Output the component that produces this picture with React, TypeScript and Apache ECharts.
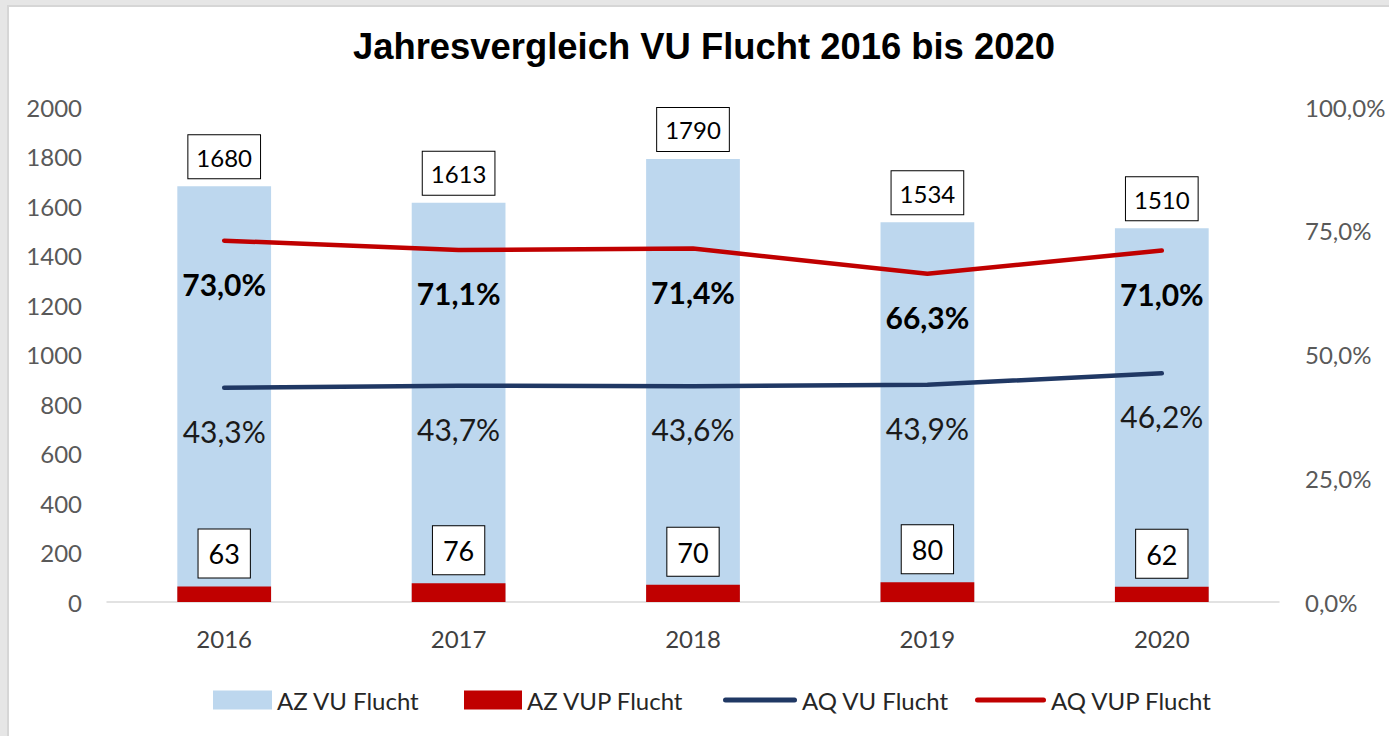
import React, { useEffect, useRef } from "react";
import * as echarts from "echarts";

const years = ["2016", "2017", "2018", "2019", "2020"];
const azVu = [1680, 1613, 1790, 1534, 1510];
const azVup = [63, 76, 70, 80, 62];
const aqVu = [43.3, 43.7, 43.6, 43.9, 46.2];
const aqVup = [73.0, 71.1, 71.4, 66.3, 71.0];
const seriesNames = ["AZ VU Flucht", "AZ VUP Flucht", "AQ VU Flucht", "AQ VUP Flucht"];
const titleText = "Jahresvergleich VU Flucht 2016 bis 2020";

const FONT = "Lato";
const pct = (v: number) => v.toFixed(1).replace(".", ",") + "%";

const lineIcon = (w: number) =>
  `path://M0,0M0,19M${w},0M${w},19M2.5,7H${w - 2.5}A2.5,2.5,0,0,1,${w - 2.5},12H2.5A2.5,2.5,0,0,1,2.5,7Z`;

const legendTextStyle = { fontFamily: FONT, fontSize: 24, color: "#262626" };

export default function App() {
  const ref = useRef<HTMLDivElement>(null);
  useEffect(() => {
    document.body.style.margin = "0";
    const chart = echarts.init(ref.current!, null, { renderer: "svg" });
    const mkLegend = (name: string, left: number, w: number, icon?: string) => ({
      left,
      top: 688,
      padding: 0,
      itemWidth: w,
      itemHeight: 19,
      data: [icon ? { name, icon } : { name, icon: "rect" }],
      textStyle: legendTextStyle,
    });
    chart.setOption({
      animation: false,
      backgroundColor: "#ffffff",
      graphic: [
        { type: "rect", z: -10, shape: { x: 0, y: 0, width: 1389, height: 6 }, style: { fill: "#e6e6e6" } },
        { type: "rect", z: -10, shape: { x: 0, y: 0, width: 7, height: 736 }, style: { fill: "#e6e6e6" } },
        { type: "rect", z: -10, shape: { x: 7, y: 5, width: 1382, height: 2 }, style: { fill: "#d6d6d6" } },
        { type: "rect", z: -10, shape: { x: 7, y: 5, width: 2, height: 731 }, style: { fill: "#d6d6d6" } },
      ],
      title: {
        text: titleText,
        left: 353,
        top: 28,
        padding: 0,
        textStyle: { fontFamily: "Liberation Sans", fontWeight: "bold", fontSize: 36.4, color: "#000" },
      },
      grid: { left: 107, right: 110, top: 107, bottom: 134, containLabel: false },
      legend: [
        mkLegend(seriesNames[0], 213, 59),
        mkLegend(seriesNames[1], 464, 58),
        mkLegend(seriesNames[2], 723, 74, lineIcon(74)),
        mkLegend(seriesNames[3], 975, 71, lineIcon(71)),
      ],
      xAxis: {
        type: "category",
        data: years,
        axisLine: { lineStyle: { color: "#d9d9d9", width: 1.5 } },
        axisTick: { show: false },
        axisLabel: { fontFamily: FONT, fontSize: 24, color: "#404040", margin: 24 },
      },
      yAxis: [
        {
          type: "value",
          min: 0,
          max: 2000,
          interval: 200,
          splitLine: { show: false },
          axisLine: { show: false },
          axisTick: { show: false },
          axisLabel: { fontFamily: FONT, fontSize: 24, color: "#595959", margin: 25, formatter: (v: number) => String(v) },
        },
        {
          type: "value",
          min: 0,
          max: 100,
          interval: 25,
          splitLine: { show: false },
          axisLine: { show: false },
          axisTick: { show: false },
          axisLabel: { fontFamily: FONT, fontSize: 24, color: "#595959", margin: 26, formatter: (v: number) => pct(v) },
        },
      ],
      series: [
        {
          name: seriesNames[0],
          type: "bar",
          data: azVu,
          barWidth: "40%",
          barGap: "-100%",
          itemStyle: { color: "#bdd7ee" },
          label: {
            show: true,
            position: "top",
            distance: 8,
            fontFamily: FONT,
            fontSize: 24,
            color: "#000",
            backgroundColor: "#fff",
            borderColor: "#000",
            borderWidth: 1,
            padding: [10, 8, 9, 8],
          },
        },
        {
          name: seriesNames[1],
          type: "bar",
          data: azVup,
          barWidth: "40%",
          barGap: "-100%",
          itemStyle: { color: "#c00000" },
          label: {
            show: true,
            position: "top",
            distance: 9,
            fontFamily: FONT,
            fontSize: 27,
            color: "#000",
            backgroundColor: "#fff",
            borderColor: "#000",
            borderWidth: 1,
            padding: [11, 10, 10, 10],
          },
        },
        {
          name: seriesNames[2],
          type: "line",
          yAxisIndex: 1,
          data: aqVu,
          symbol: "circle",
          symbolSize: 0.1,
          showSymbol: true,
          itemStyle: { color: "#203864" },
          lineStyle: { color: "#203864", width: 4.5, cap: "round" },
          label: {
            show: true,
            position: "inside",
            offset: [0, 43],
            fontFamily: FONT,
            fontSize: 30,
            color: "#1a1a1a",
            formatter: (p: any) => pct(p.value),
          },
        },
        {
          name: seriesNames[3],
          type: "line",
          yAxisIndex: 1,
          data: aqVup,
          symbol: "circle",
          symbolSize: 0.1,
          showSymbol: true,
          itemStyle: { color: "#c00000" },
          lineStyle: { color: "#c00000", width: 4.5, cap: "round" },
          label: {
            show: true,
            position: "inside",
            offset: [0, 43],
            fontFamily: FONT,
            fontSize: 30,
            fontWeight: "bold",
            color: "#000",
            formatter: (p: any) => pct(p.value),
          },
        },
      ],
    });
    return () => chart.dispose();
  }, []);
  return <div ref={ref} style={{ width: 1389, height: 736 }} />;
}
